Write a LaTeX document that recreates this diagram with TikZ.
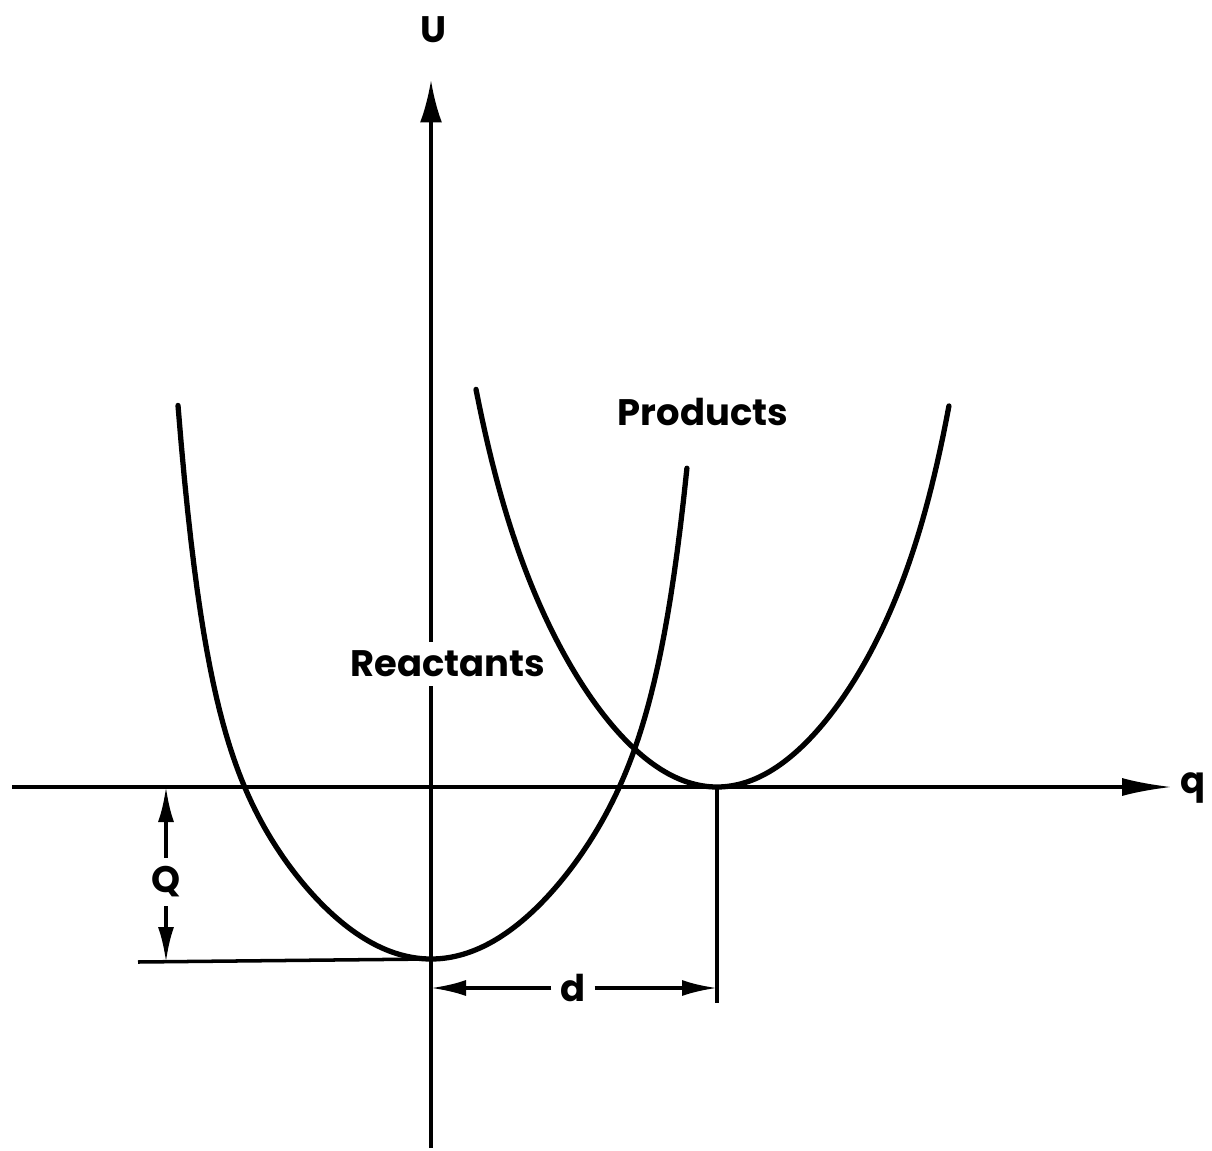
\documentclass[tikz,border=0pt]{standalone}
\usepackage{fontspec}
\setmainfont{Poppins}
\usetikzlibrary{arrows.meta}

\begin{document}
\begin{tikzpicture}[x=0.02cm, y=-0.02cm,
    axis/.style={line width=2pt},
    well/.style={line width=3pt, line cap=round},
    lbl/.style={font=\fontsize{21}{25}\selectfont\bfseries, inner sep=5pt},
    dimtip/.style={-{Latex[length=0.7cm,width=0.32cm]}}]
  \useasboundingbox (0,0) rectangle (1212,1151);

  % Reference points
  \coordinate (qstart) at (12,787);
  \coordinate (qend) at (1172,787);
  \coordinate (ubottom) at (431,1148);
  \coordinate (utop) at (431,80);
  \coordinate (rmin) at (431,959);
  \coordinate (pmin) at (717,787);
  \coordinate (qbase) at (138,962);
  \coordinate (dbase) at (717,1003);

  % Labels
  \node[lbl] (reactants) at (448,664) {Reactants};
  \node[lbl] (products) at (703,412) {Products};
  \node[lbl] (ulabel) at (433,30) {U};
  \node[lbl] (qlabel) at (1193,788) {q};
  \node[lbl] (Qlabel) at (166,882) {Q};
  \node[lbl] (dlabel) at (573,988) {d};

  % Axes (U axis broken by the Reactants label)
  \draw[axis, -{Latex[length=1cm,width=0.36cm]}] (qstart) -- (qend);
  \draw[axis] (ubottom) -- (ubottom |- reactants.south);
  \draw[axis, -{Latex[length=0.85cm,width=0.44cm]}] (utop |- reactants.north) -- (utop);

  % Potential wells: steep hand-drawn parabolas, one branch at a time (t in hundreds)
  \draw[well, shift={(rmin)}]
    plot[domain=-2.53:0, samples=80] ({100*\x}, {-(46*\x*\x + 230*pow(abs(\x)/2.5,10))})
    -- plot[domain=0:2.56, samples=80] ({100*\x}, {-(46*\x*\x + 150*pow(abs(\x)/2.5,10))});
  \draw[well, shift={(pmin)}]
    plot[domain=-2.41:0, samples=80] ({100*\x}, {-(56*\x*\x + 70*pow(abs(\x)/2.4,8))})
    -- plot[domain=0:2.32, samples=80] ({100*\x}, {-(56*\x*\x + 105*pow(abs(\x)/2.4,8))});

  % Dimension lines
  \draw[axis] (qbase) -- (rmin);
  \draw[axis] (pmin) -- (dbase);
  \draw[axis, dimtip] (Qlabel.north) -- (Qlabel.north |- qstart);
  \draw[axis, dimtip] (Qlabel.south) -- (Qlabel.south |- qbase);
  \draw[axis, dimtip] (dlabel.west) -- (dlabel.west -| rmin);
  \draw[axis, dimtip] (dlabel.east) -- (dlabel.east -| pmin);
\end{tikzpicture}
\end{document}
